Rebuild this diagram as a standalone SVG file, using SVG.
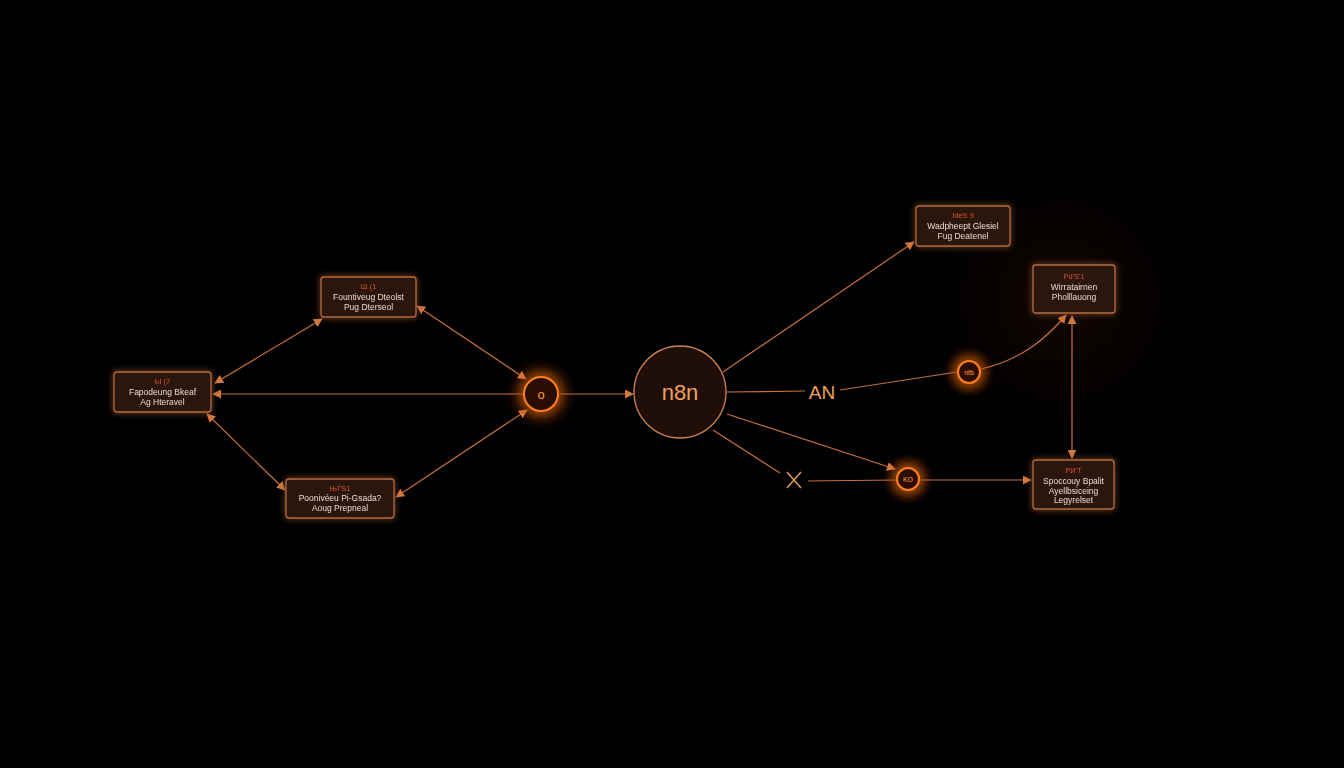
<svg xmlns="http://www.w3.org/2000/svg" width="1344" height="768" viewBox="0 0 1344 768">
<style>
.box{fill:#2a150d;stroke:#b46a3c;stroke-width:1.3}
.t{font-family:"Liberation Sans",Arial,sans-serif;font-size:8.5px;fill:#eadbcc;text-anchor:middle}
.h{font-family:"Liberation Sans",Arial,sans-serif;font-size:7.5px;fill:#d8552a;text-anchor:middle}
.ln{stroke:#c8713c;stroke-width:1.2;fill:none}
.gc{fill:#2a0f04;stroke:#ff7d1e;stroke-width:2}
.gl{font-family:"Liberation Sans",Arial,sans-serif;fill:#ff9a4a;text-anchor:middle}
</style>
<defs>
<marker id="a" viewBox="0 0 10 10" refX="9" refY="5" markerWidth="9" markerHeight="9" markerUnits="userSpaceOnUse" orient="auto-start-reverse"><path d="M0,0 L10,5 L0,10 z" fill="#d2773e"/></marker>
<filter id="g" x="-150%" y="-150%" width="400%" height="400%"><feGaussianBlur stdDeviation="6" result="b"/><feMerge><feMergeNode in="b"/><feMergeNode in="b"/><feMergeNode in="SourceGraphic"/></feMerge></filter>
<filter id="bg" x="-20%" y="-20%" width="140%" height="140%"><feGaussianBlur stdDeviation="3" result="b"/><feMerge><feMergeNode in="b"/><feMergeNode in="SourceGraphic"/></feMerge></filter>
<radialGradient id="halo"><stop offset="0" stop-color="#ff6a10" stop-opacity="0.65"/><stop offset="0.5" stop-color="#ff5a10" stop-opacity="0.2"/><stop offset="1" stop-color="#ff6a10" stop-opacity="0"/></radialGradient>
<radialGradient id="haze"><stop offset="0" stop-color="#2a0f04" stop-opacity="0.5"/><stop offset="1" stop-color="#000" stop-opacity="0"/></radialGradient>
</defs>
<rect width="1344" height="768" fill="#000"/>
<circle cx="1060" cy="300" r="170" fill="url(#haze)"/>
<g id="connectors">
<line class="ln" x1="524" y1="394" x2="213" y2="394" marker-end="url(#a)"/>
<line class="ln" x1="215" y1="383" x2="322" y2="319" marker-start="url(#a)" marker-end="url(#a)"/>
<line class="ln" x1="207" y1="414" x2="285" y2="490" marker-start="url(#a)" marker-end="url(#a)"/>
<line class="ln" x1="417" y1="306" x2="526" y2="379" marker-start="url(#a)" marker-end="url(#a)"/>
<line class="ln" x1="396" y1="497" x2="527" y2="410" marker-start="url(#a)" marker-end="url(#a)"/>
<line class="ln" x1="559" y1="394" x2="633" y2="394" marker-end="url(#a)"/>
<line class="ln" x1="723" y1="372" x2="914" y2="242" marker-end="url(#a)"/>
<line class="ln" x1="727" y1="392" x2="805" y2="391"/>
<line class="ln" x1="840" y1="390" x2="957" y2="372"/>
<path class="ln" d="M981,369 C1020,360 1045,340 1066,315" marker-end="url(#a)"/>
<line class="ln" x1="727" y1="414" x2="895" y2="469" marker-end="url(#a)"/>
<line class="ln" x1="713" y1="430" x2="780" y2="473"/>
<line class="ln" x1="808" y1="481" x2="897" y2="480"/>
<line class="ln" x1="920" y1="480" x2="1031" y2="480" marker-end="url(#a)"/>
<line class="ln" x1="1072" y1="316" x2="1072" y2="458" marker-start="url(#a)" marker-end="url(#a)"/>
</g>
<g id="b1" filter="url(#bg)"><rect class="box" x="114" y="372" width="97" height="40" rx="3"/><text class="h" x="162.5" y="384">Ы (7</text><text class="t" x="162.5" y="395">Fapodeung Bkeaf</text><text class="t" x="162.5" y="405">Ag Hteravel</text></g>
<g id="b2" filter="url(#bg)"><rect class="box" x="321" y="277" width="95" height="40" rx="3"/><text class="h" x="368.5" y="289">Ш (1</text><text class="t" x="368.5" y="300">Fountiveug Dteolst</text><text class="t" x="368.5" y="310">Pug Dterseol</text></g>
<g id="b3" filter="url(#bg)"><rect class="box" x="286" y="479" width="108" height="39" rx="3"/><text class="h" x="340" y="491">ЊЃЅ1</text><text class="t" x="340" y="501">Poonivéeu Pi-Gsada?</text><text class="t" x="340" y="511">Aoug Prepneal</text></g>
<g id="b4" filter="url(#bg)"><rect class="box" x="916" y="206" width="94" height="40" rx="3"/><text class="h" x="963" y="218">IdeS 9</text><text class="t" x="963" y="229">Wadpheept Glesiel</text><text class="t" x="963" y="239">Fug Deatenel</text></g>
<g id="b5" filter="url(#bg)"><rect class="box" x="1033" y="265" width="82" height="48" rx="3"/><text class="h" x="1074" y="279">Pd'S'1</text><text class="t" x="1074" y="290">Wirratairnen</text><text class="t" x="1074" y="300">Pholllauong</text></g>
<g id="b6" filter="url(#bg)"><rect class="box" x="1033" y="460" width="81" height="49" rx="3"/><text class="h" x="1073.5" y="473">PИ'Т</text><text class="t" x="1073.5" y="484">Spoccouy Bpalit</text><text class="t" x="1073.5" y="494">Ayellbsiceing</text><text class="t" x="1073.5" y="503">Legyrelset</text></g>
<g id="c1"><circle cx="541" cy="394" r="36" fill="url(#halo)"/><circle class="gc" cx="541" cy="394" r="17" filter="url(#g)"/><text class="gl" x="541" y="399" font-size="13">o</text></g>
<g id="n8n"><circle cx="680" cy="392" r="46" fill="#1f0f08" stroke="#c8865a" stroke-width="1.3"/><text x="680" y="400" font-family="Liberation Sans,Arial,sans-serif" font-size="22" fill="#f0a060" text-anchor="middle">n8n</text></g>
<g id="an"><text x="822" y="399" font-family="Liberation Sans,Arial,sans-serif" font-size="19" fill="#f0a060" text-anchor="middle">AN</text></g>
<g id="c2"><circle cx="969" cy="372" r="26" fill="url(#halo)"/><circle class="gc" cx="969" cy="372" r="11" filter="url(#g)"/><text class="gl" x="969" y="375" font-size="7">ntb</text></g>
<g id="c3"><circle cx="908" cy="479" r="26" fill="url(#halo)"/><circle class="gc" cx="908" cy="479" r="11" filter="url(#g)"/><text class="gl" x="908" y="482" font-size="7">KO</text></g>
<g id="x"><path d="M787,472 L801,488 M801,472 L787,488" stroke="#d8955a" stroke-width="1.6" fill="none"/></g>
</svg>
